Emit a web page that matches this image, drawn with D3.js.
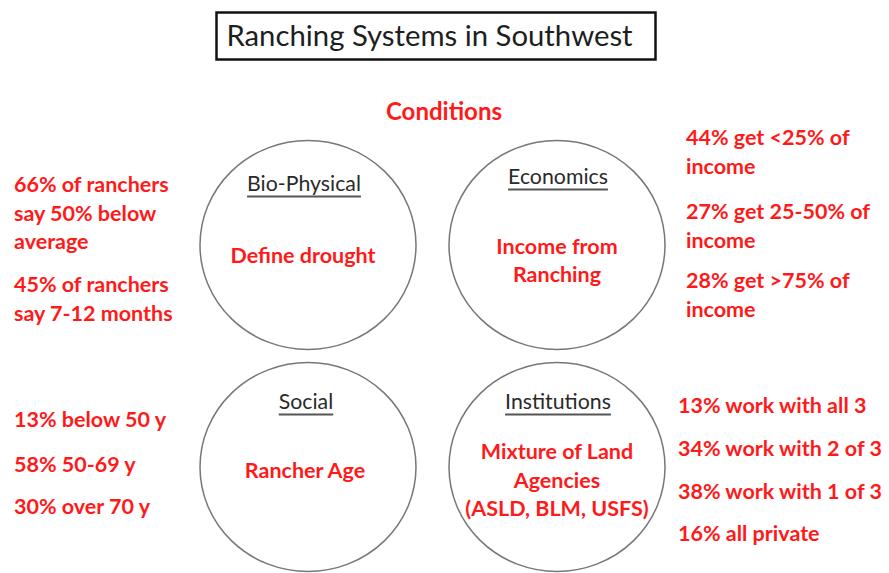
<!DOCTYPE html>
<html>
<head>
<meta charset="utf-8">
<script src="https://cdn.jsdelivr.net/npm/d3@7"></script>
<style>
  html, body { margin: 0; padding: 0; background: #fff; }
  svg { display: block; }
</style>
</head>
<body>
<svg id="chart" width="889" height="573"></svg>
<script>
// ---- data ----
const titleText = "Ranching Systems in Southwest";
const sectionLabel = "Conditions";
const domains = ["Bio-Physical", "Economics", "Social", "Institutions"];
const domainTopics = [
  ["Define drought"],
  ["Income from", "Ranching"],
  ["Rancher Age"],
  ["Mixture of Land", "Agencies", "(ASLD, BLM, USFS)"]
];
const bioNotes = [["66% of ranchers", "say 50% below", "average"], ["45% of ranchers", "say 7-12 months"]];
const econNotes = [["44% get <25% of", "income"], ["27% get 25-50% of", "income"], ["28% get >75% of", "income"]];
const socialNotes = [["13% below 50 y"], ["58% 50-69 y"], ["30% over 70 y"]];
const instNotes = [["13% work with all 3"], ["34% work with 2 of 3"], ["38% work with 1 of 3"], ["16% all private"]];

// ---- layout ----
const svg = d3.select("#chart");
const FONT = "Lato, 'Open Sans', sans-serif";
const RED = "#ff1a1a";
const RED_SIZE = 21.5;

const col = d3.scaleOrdinal().domain([0, 1]).range([308, 557]);
const row = d3.scaleOrdinal().domain([0, 1]).range([245, 467]);

// title box
svg.append("rect").attr("x", 216.5).attr("y", 12.5).attr("width", 439).attr("height", 47)
  .attr("fill", "#fff").attr("stroke", "#111").attr("stroke-width", 2.5);
svg.append("text").attr("x", 429.5).attr("y", 46).attr("text-anchor", "middle")
  .attr("font-family", FONT).attr("font-size", 29.3).attr("fill", "#1e1e1e").text(titleText);

svg.append("text").attr("x", 444).attr("y", 120).attr("text-anchor", "middle")
  .attr("font-family", FONT).attr("font-weight", "bold").attr("font-size", 24)
  .attr("fill", RED).text(sectionLabel);

const cells = domains.map((d, i) => ({
  name: d, topic: domainTopics[i], cx: col(i % 2), cy: row(Math.floor(i / 2)), i
}));

const g = svg.selectAll("g.cell").data(cells).join("g").attr("class", "cell")
  .attr("transform", d => `translate(${d.cx},${d.cy})`);

g.append("ellipse").attr("rx", 108).attr("ry", 104.5)
  .attr("fill", "none").attr("stroke", "#777").attr("stroke-width", 1.5);

const headOffset = [-54, -61, -58, -58];
const heads = g.append("text").attr("text-anchor", "middle")
  .attr("x", d => [-4, 1, -2, 1][d.i])
  .attr("y", d => headOffset[d.i])
  .attr("font-family", FONT).attr("font-size", 21.3).attr("fill", "#2a2a2a")
  .text(d => d.name);
heads.each(function(d) {
  const b = this.getBBox();
  d3.select(this.parentNode).append("line")
    .attr("x1", b.x).attr("x2", b.x + b.width)
    .attr("y1", headOffset[d.i] + 5.5).attr("y2", headOffset[d.i] + 5.5)
    .attr("stroke", "#555").attr("stroke-width", 2.2);
});

const topicY = [[18], [9, 37], [11], [-8, 21, 49]];
g.each(function(d) {
  d3.select(this).selectAll("text.topic").data(d.topic).join("text").attr("class", "topic")
    .attr("text-anchor", "middle").attr("x", [-5, 0, -3, 0][d.i])
    .attr("y", (t, j) => topicY[d.i][j])
    .attr("font-family", FONT).attr("font-weight", "bold").attr("font-size", RED_SIZE)
    .attr("fill", RED).text(t => t);
});

function notes(groups, x, startYs, lh) {
  groups.forEach((lines, gi) => {
    lines.forEach((t, li) => {
      svg.append("text").attr("x", x).attr("y", startYs[gi] + li * lh)
        .attr("font-family", FONT).attr("font-weight", "bold").attr("font-size", RED_SIZE)
        .attr("fill", RED).text(t);
    });
  });
}
notes(bioNotes, 14, [192, 292], 28.5);
notes(econNotes, 686, [145, 219, 288], 28.5);
notes(socialNotes, 14, [427, 472, 514], 28);
notes(instNotes, 678, [413, 456, 499, 541], 28);
</script>
</body>
</html>
